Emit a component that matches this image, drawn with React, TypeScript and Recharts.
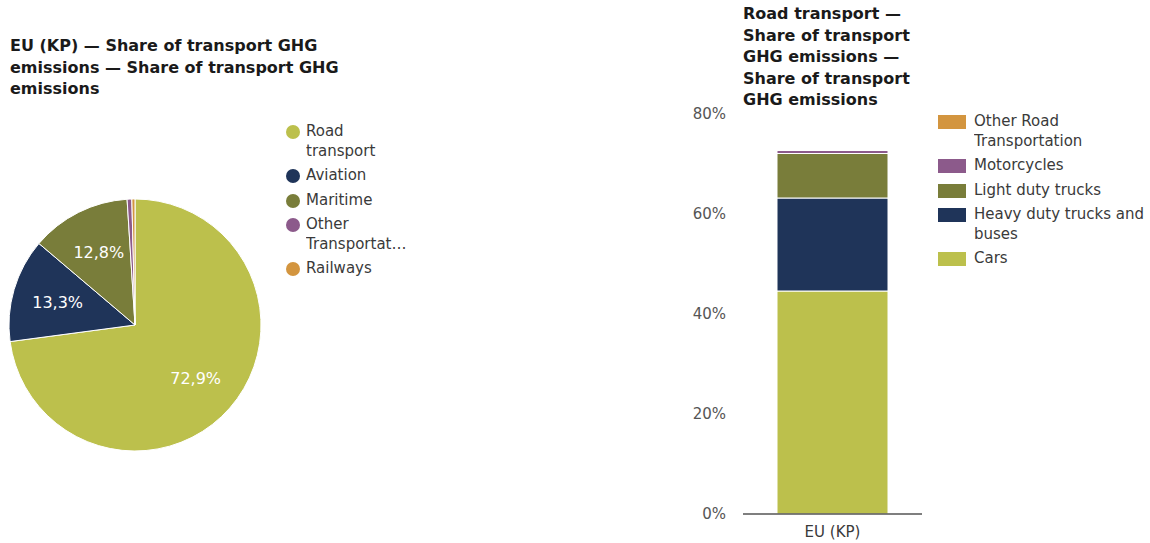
import { PieChart, Pie, Cell, BarChart, Bar, XAxis, YAxis } from 'recharts';

// pie: share of transport GHG emissions, EU (KP)
const pieNames = ['Road transport', 'Aviation', 'Maritime', 'Other Transportation', 'Railways'];
const pieValues = [72.9, 13.3, 12.8, 0.6, 0.4];
const pieColors = ['#bcc04c', '#1f3459', '#797d3a', '#8c5a8b', '#d3953f'];

// stacked bar: road transport breakdown
const barCategories = ['EU (KP)'];
const carsValues = [44.6];
const heavyValues = [18.6];
const lightValues = [8.9];
const motoValues = [0.6];
const otherRoadValues = [0.2];
const yTicks = [0, 20, 40, 60, 80];

const barSeries = [
  { key: 'cars', name: 'Cars', color: '#bcc04c', values: carsValues },
  { key: 'heavy', name: 'Heavy duty trucks and buses', color: '#1f3459', values: heavyValues },
  { key: 'light', name: 'Light duty trucks', color: '#797d3a', values: lightValues },
  { key: 'moto', name: 'Motorcycles', color: '#8c5a8b', values: motoValues },
  { key: 'otherRoad', name: 'Other Road Transportation', color: '#d3953f', values: otherRoadValues },
];

const FONT = '"DejaVu Sans", Verdana, sans-serif';

const pieData = pieNames.map((name, i) => ({ name, value: pieValues[i] }));
const barData = barCategories.map((cat, i) => {
  const row: { [k: string]: string | number } = { name: cat };
  barSeries.forEach(s => { row[s.key] = s.values[i]; });
  return row;
});

const fmt = (v: number) => `${v.toFixed(1).replace('.', ',')}%`;

const renderPieLabel = (props: any) => {
  const { cx, cy, midAngle, outerRadius, value } = props;
  if (value < 5) return null;
  const r = outerRadius * 0.64;
  const rad = (Math.PI / 180) * midAngle;
  const x = cx + r * Math.cos(rad);
  const y = cy - r * Math.sin(rad);
  return (
    <text x={x} y={y} fill="#fff" fontSize={16} fontFamily={FONT} textAnchor="middle" dominantBaseline="central">
      {fmt(value)}
    </text>
  );
};

const titleStyle: React.CSSProperties = {
  position: 'absolute',
  fontFamily: FONT,
  fontWeight: 'bold',
  fontSize: 16,
  lineHeight: '21.5px',
  color: '#1a1a1a',
};

const legendText: React.CSSProperties = {
  fontFamily: FONT,
  fontSize: 15,
  lineHeight: '19.5px',
  color: '#3a3a3a',
  overflow: 'hidden',
  textOverflow: 'ellipsis',
};

const App = () => {
  return (
    <div style={{ position: 'relative', width: 1150, height: 543, background: '#fff', overflow: 'hidden' }}>
      <style>{'body{margin:0;}'}</style>

      <div style={{ ...titleStyle, left: 10, top: 35, width: 340 }}>
        EU (KP) — Share of transport GHG emissions — Share of transport GHG emissions
      </div>

      <div style={{ position: 'absolute', left: 0, top: 185 }}>
        <PieChart width={280} height={280} margin={{ top: 0, right: 0, bottom: 0, left: 0 }}>
          <Pie
            data={pieData}
            dataKey="value"
            nameKey="name"
            cx={135}
            cy={140}
            outerRadius={126}
            startAngle={90}
            endAngle={-270}
            stroke="#fff"
            strokeWidth={1}
            label={renderPieLabel}
            labelLine={false}
            isAnimationActive={false}
          >
            {pieData.map((d, i) => (
              <Cell key={d.name} fill={pieColors[i]} />
            ))}
          </Pie>
        </PieChart>
      </div>

      <div style={{ position: 'absolute', left: 286, top: 122 }}>
        {pieData.map((d, i) => (
          <div key={d.name} style={{ display: 'flex', alignItems: 'flex-start', marginBottom: 5 }}>
            <span style={{ width: 14, height: 14, borderRadius: '50%', background: pieColors[i], marginTop: 3, marginRight: 6, flexShrink: 0 }} />
            <div style={{ ...legendText, width: 104 }}>{d.name}</div>
          </div>
        ))}
      </div>

      <div style={{ ...titleStyle, left: 743, top: 3, width: 180 }}>
        Road transport — Share of transport GHG emissions — Share of transport GHG emissions
      </div>

      <div style={{ position: 'absolute', left: 680, top: 100 }}>
        <BarChart width={250} height={443} data={barData} margin={{ top: 14, right: 8, left: 0, bottom: 0 }}>
          <XAxis
            dataKey="name"
            height={29}
            tickLine={false}
            tickSize={0}
            tickMargin={12}
            axisLine={{ stroke: '#555', strokeWidth: 1.5 }}
            tick={{ fill: '#3a3a3a', fontSize: 15, fontFamily: FONT }}
          />
          <YAxis
            width={63}
            domain={[0, 80]}
            ticks={yTicks}
            tickFormatter={(v: number) => `${v}%`}
            axisLine={false}
            tickLine={false}
            tickSize={0}
            tickMargin={17}
            tick={{ fill: '#555', fontSize: 15, fontFamily: FONT }}
          />
          {barSeries.map(s => (
            <Bar
              key={s.key}
              dataKey={s.key}
              name={s.name}
              stackId="road"
              fill={s.color}
              stroke="#fff"
              strokeWidth={1}
              barSize={111}
              isAnimationActive={false}
            />
          ))}
        </BarChart>
      </div>

      <div style={{ position: 'absolute', left: 938, top: 112 }}>
        {[...barSeries].reverse().map(s => (
          <div key={s.key} style={{ display: 'flex', alignItems: 'flex-start', marginBottom: 5 }}>
            <span style={{ width: 28, height: 14, background: s.color, marginTop: 3, marginRight: 8, flexShrink: 0 }} />
            <div style={{ ...legendText, width: 176 }}>{s.name}</div>
          </div>
        ))}
      </div>
    </div>
  );
};

export default App;
